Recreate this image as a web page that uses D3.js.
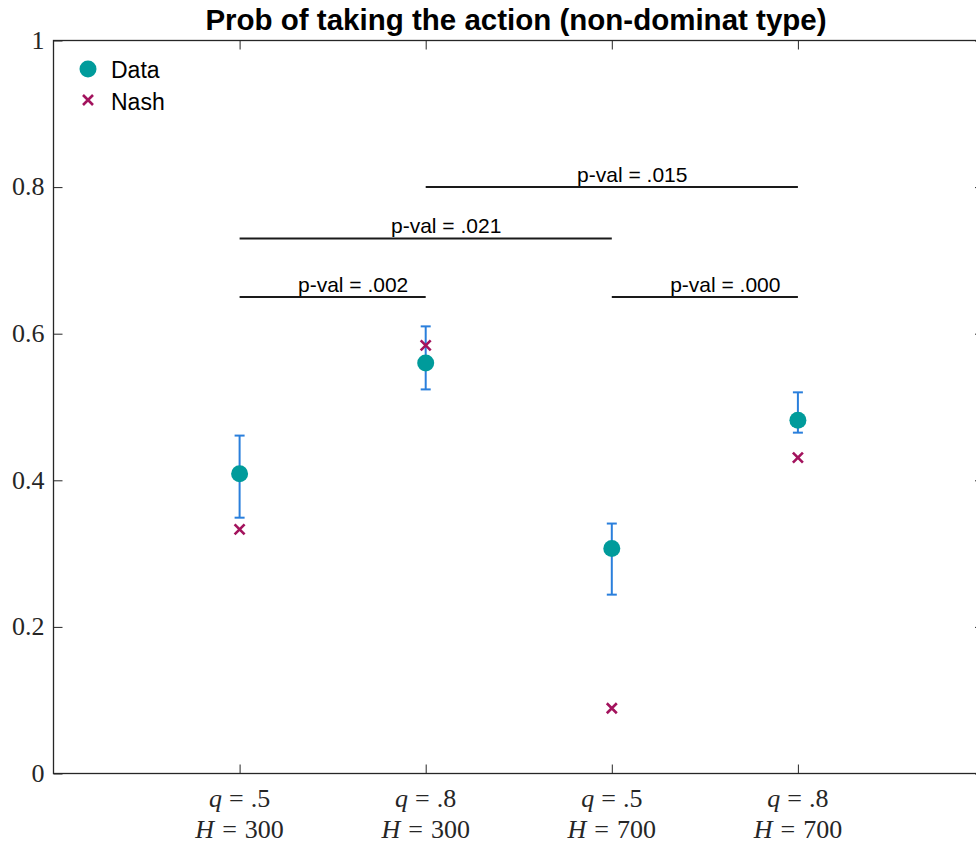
<!DOCTYPE html>
<html>
<head>
<meta charset="utf-8">
<script src="https://cdn.jsdelivr.net/npm/d3@7"></script>
<style>
  body { margin: 0; background: #fff; }
  .tick-lab { font-family: "Liberation Serif", "DejaVu Serif", serif; fill: #262626; }
  .sans { font-family: "Liberation Sans", Arial, sans-serif; }
</style>
</head>
<body>
<div id="chart"></div>
<script>
// chart data
var groups = [
  { q: ".5", H: "300" },
  { q: ".8", H: "300" },
  { q: ".5", H: "700" },
  { q: ".8", H: "700" }
];
var dataMean = [0.409, 0.560, 0.307, 0.482];
var errLow = [0.349, 0.524, 0.244, 0.465];
var errHigh = [0.461, 0.610, 0.341, 0.520];
var nashVals = [0.333, 0.584, 0.089, 0.431];
var yTicks = [0, 0.2, 0.4, 0.6, 0.8, 1];
var yTickLabels = ["0", "0.2", "0.4", "0.6", "0.8", "1"];
// p-value brackets: from group, to group, height, label
var pvals = [
  { from: 1, to: 2, y: 0.65, label: "p-val = .002" },
  { from: 1, to: 3, y: 0.73, label: "p-val = .021" },
  { from: 2, to: 4, y: 0.80, label: "p-val = .015" },
  { from: 3, to: 4, y: 0.65, label: "p-val = .000" }
];

var svgWidth = 976;
var svgHeight = 843;
var margin = { top: 40.5, right: -8, bottom: 69.5, left: 53.5 };
var width = svgWidth - margin.left - margin.right;
var height = svgHeight - margin.top - margin.bottom;

var svg = d3.select("#chart").append("svg")
  .attr("width", svgWidth)
  .attr("height", svgHeight);

var chartGroup = svg.append("g")
  .attr("transform", `translate(${margin.left}, ${margin.top})`);

var x = d3.scaleLinear().domain([0, 5]).range([0, width]);
var y = d3.scaleLinear().domain([0, 1]).range([height, 0]);

var axisColor = "#262626";
var tickLen = 9;

// box around plot
chartGroup.append("rect")
  .attr("x", 0).attr("y", 0)
  .attr("width", width).attr("height", height)
  .attr("fill", "none")
  .attr("stroke", axisColor)
  .attr("stroke-width", 1.3);

// left axis (inward ticks)
var leftAxis = d3.axisLeft(y).tickValues(yTicks)
  .tickSizeInner(-tickLen).tickSizeOuter(0)
  .tickFormat(function (d, i) { return yTickLabels[i]; });
var gl = chartGroup.append("g").call(leftAxis);
gl.select(".domain").remove();
gl.selectAll("line").attr("stroke", axisColor);
gl.selectAll("text")
  .attr("class", "tick-lab")
  .attr("x", -9)
  .attr("dy", "0.3em")
  .style("font-size", "26px");

// right axis ticks
chartGroup.append("g")
  .attr("transform", `translate(${width},0)`)
  .call(d3.axisRight(y).tickValues(yTicks).tickSizeInner(-tickLen).tickSizeOuter(0).tickFormat(""))
  .call(function (g) { g.select(".domain").remove(); g.selectAll("line").attr("stroke", axisColor); });

// bottom axis
var xTicks = [1, 2, 3, 4];
var gb = chartGroup.append("g")
  .attr("transform", `translate(0,${height})`)
  .call(d3.axisBottom(x).tickValues(xTicks).tickSizeInner(-tickLen).tickSizeOuter(0).tickFormat(""));
gb.select(".domain").remove();
gb.selectAll("line").attr("stroke", axisColor);

// top axis
chartGroup.append("g")
  .call(d3.axisTop(x).tickValues(xTicks).tickSizeInner(-tickLen).tickSizeOuter(0).tickFormat(""))
  .call(function (g) { g.select(".domain").remove(); g.selectAll("line").attr("stroke", axisColor); });

// x tick labels (two lines, latex style)
var xl = chartGroup.append("g").selectAll("text")
  .data(groups)
  .enter()
  .append("text")
  .attr("class", "tick-lab")
  .attr("text-anchor", "middle")
  .style("font-size", "26px")
  .attr("x", function (d, i) { return x(i + 1); })
  .attr("y", height + 33);
xl.append("tspan").style("font-style", "italic").text("q");
xl.append("tspan").attr("dx", 7).text("=");
xl.append("tspan").attr("dx", 7).text(function (d) { return d.q; });
xl.append("tspan")
  .attr("x", function (d, i) { return x(i + 1); })
  .attr("dy", 31)
  .style("font-style", "italic").text("H");
xl.append("tspan").attr("dx", 8).text("=");
xl.append("tspan").attr("dx", 8).text(function (d) { return d.H; });

// p-value lines
chartGroup.append("g").selectAll("line")
  .data(pvals)
  .enter()
  .append("line")
  .attr("x1", function (d) { return x(d.from); })
  .attr("x2", function (d) { return x(d.to); })
  .attr("y1", function (d) { return y(d.y); })
  .attr("y2", function (d) { return y(d.y); })
  .attr("stroke", "#1a1a1a")
  .attr("stroke-width", 2);

// labels sit a bit right of the bracket middle
chartGroup.append("g").selectAll("text")
  .data(pvals)
  .enter()
  .append("text")
  .attr("class", "sans")
  .attr("text-anchor", "middle")
  .style("font-size", "21px")
  .attr("fill", "#000")
  .attr("x", function (d) { return x((d.from + d.to) / 2 + 0.11); })
  .attr("y", function (d) { return y(d.y) - 5; })
  .text(function (d) { return d.label; });

// error bars
var errColor = "#2a7fdc";
var capW = 5;
var eb = chartGroup.append("g");
dataMean.forEach(function (m, i) {
  var cx = x(i + 1);
  eb.append("line")
    .attr("x1", cx).attr("x2", cx)
    .attr("y1", y(errLow[i])).attr("y2", y(errHigh[i]))
    .attr("stroke", errColor).attr("stroke-width", 2);
  [errLow[i], errHigh[i]].forEach(function (v) {
    eb.append("line")
      .attr("x1", cx - capW).attr("x2", cx + capW)
      .attr("y1", y(v)).attr("y2", y(v))
      .attr("stroke", errColor).attr("stroke-width", 2);
  });
});

// data points
var dataColor = "#009b9b";
chartGroup.append("g").selectAll("circle")
  .data(dataMean)
  .enter()
  .append("circle")
  .attr("cx", function (d, i) { return x(i + 1); })
  .attr("cy", function (d) { return y(d); })
  .attr("r", 8.5)
  .attr("fill", dataColor);

// nash crosses
var nashColor = "#a3135d";
var cs = 5;
function cross(g, cx, cy) {
  g.append("path")
    .attr("d", `M${cx - cs},${cy - cs}L${cx + cs},${cy + cs}M${cx - cs},${cy + cs}L${cx + cs},${cy - cs}`)
    .attr("stroke", nashColor)
    .attr("stroke-width", 2.6)
    .attr("fill", "none");
}
var ng = chartGroup.append("g");
nashVals.forEach(function (v, i) { cross(ng, x(i + 1), y(v)); });

// legend
var lg = svg.append("g");
lg.append("circle").attr("cx", 88).attr("cy", 69).attr("r", 8.5).attr("fill", dataColor);
lg.append("text").attr("class", "sans").attr("x", 111).attr("y", 78)
  .style("font-size", "23px").attr("fill", "#000").text("Data");
cross(lg, 88, 100);
lg.append("text").attr("class", "sans").attr("x", 111).attr("y", 110)
  .style("font-size", "23px").attr("fill", "#000").text("Nash");

// title
svg.append("text")
  .attr("class", "sans")
  .attr("x", 516)
  .attr("y", 30)
  .attr("text-anchor", "middle")
  .style("font-size", "29.5px")
  .style("font-weight", "bold")
  .attr("fill", "#000")
  .text("Prob of taking the action (non-dominat type)");
</script>
</body>
</html>
